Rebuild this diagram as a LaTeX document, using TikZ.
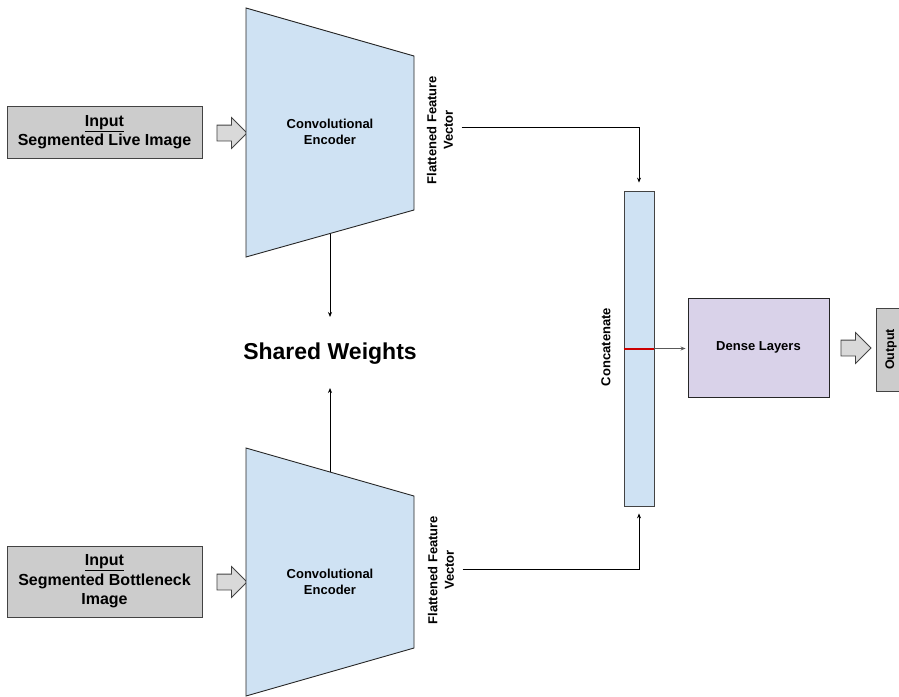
\documentclass[tikz,border=0pt]{standalone}
\usepackage{fontspec}
\setmainfont{Liberation Sans}
\usetikzlibrary{arrows.meta,positioning,calc,shapes.arrows}
\definecolor{edgegray}{HTML}{434343}
\definecolor{inputgray}{HTML}{CCCCCC}
\definecolor{arrowgray}{HTML}{D9D9D9}
\definecolor{encblue}{HTML}{CFE2F3}
\definecolor{densepurple}{HTML}{D9D2E9}
\definecolor{splitred}{HTML}{CC0000}
\definecolor{linkgray}{HTML}{595959}

\begin{document}
\begin{tikzpicture}[x=1pt, y=-1pt,
    inbox/.style={draw=edgegray, fill=inputgray, line width=0.9pt, minimum width=195pt, align=center, font=\bfseries\fontsize{16}{19.5}\selectfont},
    encoder/.style={draw=black!85, fill=encblue, line width=0.9pt},
    enctext/.style={align=center, font=\bfseries\fontsize{13}{15.5}\selectfont},
    sidetext/.style={rotate=90, align=center, font=\bfseries\fontsize{13}{16.5}\selectfont},
    fatarrow/.style={single arrow, draw=edgegray, fill=arrowgray, line width=0.8pt, inner sep=0pt, text width=0pt, text height=7.5pt, text depth=7.5pt, minimum height=30pt, single arrow head extend=7.5pt, single arrow head indent=0pt},
    larrow/.style={-{Stealth[length=5pt,width=4pt]}, line width=0.8pt}
]
\useasboundingbox (0,0) rectangle (899,696);

% inputs
\node[inbox, minimum height=52pt] (live) at (104.5,132) {\underline{Input}\\Segmented Live Image};
\node[inbox, minimum height=71pt] (bneck) at (104.5,581.5) {\underline{Input}\\Segmented Bottleneck\\Image};
\node[fatarrow] (live2enc) at (228,133) {};
\node[fatarrow] (bneck2enc) at (228,582) {};

% twin encoders
\draw[encoder] (246,8) coordinate (enc1nw) -- (414,56) coordinate (enc1ne) -- (414,210) coordinate (enc1se) -- (246,257) coordinate (enc1sw) -- cycle;
\draw[encoder] (246,448) coordinate (enc2nw) -- (414,496) coordinate (enc2ne) -- (414,648) coordinate (enc2se) -- (246,696) coordinate (enc2sw) -- cycle;
\node[enctext] (enc1) at (330,132) {Convolutional\\Encoder};
\node[enctext] (enc2) at (330,582) {Convolutional\\Encoder};

\node[font=\bfseries\fontsize{23}{28}\selectfont] (shared) at (330,354) {Shared Weights};
\coordinate (swtop) at (330,317);
\coordinate (swbot) at (330,388);
\draw[larrow] ($(enc1sw)!0.5!(enc1se)$) -- (swtop);
\draw[larrow] ($(enc2nw)!0.5!(enc2ne)$) -- (swbot);

\node[sidetext] (flat1) at (440,130) {Flattened Feature\\Vector};
\node[sidetext] (flat2) at (441,570) {Flattened Feature\\Vector};

% concatenation and head
\node[draw=edgegray, fill=encblue, line width=0.8pt, minimum width=30pt, minimum height=315pt, inner sep=0pt] (concat) at (639,348.5) {};
\draw[splitred, line width=2pt] (concat.west) -- (concat.east);
\node[sidetext] (catlabel) at (606,347) {Concatenate};

\draw[larrow, shorten <=5pt, shorten >=8pt] ([yshift=3pt]flat1.south) -| (concat.north);
\draw[larrow, shorten <=5pt, shorten >=7pt] ([yshift=1pt]flat2.south) -| (concat.south);

\node[draw=black!85, fill=densepurple, line width=0.9pt, minimum width=141pt, minimum height=99pt, font=\bfseries\fontsize{13}{15.5}\selectfont] (dense) at (758.5,347.5) {Dense Layers};
\draw[larrow, linkgray, shorten >=2pt] (concat.east) -- (concat.east -| dense.west);

\node[fatarrow] (dense2out) at (852,348) {};
\node[draw=edgegray, fill=inputgray, line width=0.9pt, rotate=90, anchor=north, minimum width=83pt, inner ysep=9pt, font=\bfseries\fontsize{12.5}{15}\selectfont] (output) at (876,349.5) {Output};

\end{tikzpicture}
\end{document}
